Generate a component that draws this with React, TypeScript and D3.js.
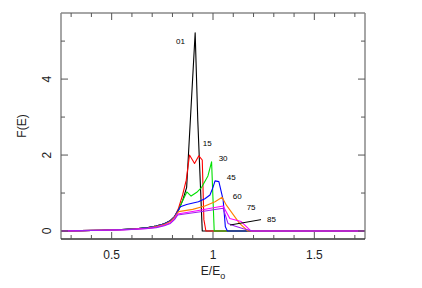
import React from "react";
import * as d3 from "d3";

const W = 422;
const H = 288;

// Series: energy ratio E/Eo and F(E) for each angle
const E01 = [0.25, 0.35, 0.45, 0.55, 0.62, 0.68, 0.72, 0.76, 0.79, 0.81, 0.83, 0.85, 0.87, 0.912, 0.925, 0.947, 0.96, 1.75];
const F01 = [0, 0.01, 0.02, 0.04, 0.06, 0.09, 0.13, 0.19, 0.28, 0.38, 0.55, 0.8, 1.15, 5.22, 2.9, 0, 0, 0];

const E15 = [0.25, 0.35, 0.45, 0.55, 0.62, 0.68, 0.72, 0.76, 0.79, 0.81, 0.83, 0.85, 0.868, 0.884, 0.909, 0.93, 0.947, 0.955, 0.965, 1.75];
const F15 = [0, 0.01, 0.02, 0.04, 0.06, 0.09, 0.13, 0.19, 0.27, 0.37, 0.6, 0.95, 1.34, 2.0, 1.78, 1.98, 1.87, 0.3, 0, 0];

const E30 = [0.25, 0.35, 0.45, 0.55, 0.62, 0.68, 0.72, 0.76, 0.79, 0.81, 0.83, 0.85, 0.871, 0.892, 0.92, 0.944, 0.975, 0.993, 1.006, 1.75];
const F30 = [0, 0.01, 0.02, 0.04, 0.06, 0.09, 0.13, 0.19, 0.27, 0.36, 0.55, 0.8, 1.03, 0.92, 1.02, 1.15, 1.45, 1.82, 0, 0];

const E45 = [0.25, 0.35, 0.45, 0.55, 0.62, 0.68, 0.72, 0.76, 0.79, 0.81, 0.839, 0.87, 0.928, 0.96, 0.985, 1.0, 1.01, 1.029, 1.05, 1.061, 1.071, 1.75];
const F45 = [0, 0.01, 0.02, 0.04, 0.06, 0.09, 0.13, 0.19, 0.27, 0.38, 0.64, 0.7, 0.77, 0.85, 0.95, 1.15, 1.32, 1.3, 0.82, 0.11, 0, 0];

const E60 = [0.25, 0.35, 0.45, 0.55, 0.62, 0.68, 0.72, 0.76, 0.79, 0.81, 0.83, 0.9, 0.96, 1.01, 1.045, 1.066, 1.107, 1.131, 1.172, 1.75];
const F60 = [0, 0.01, 0.02, 0.035, 0.055, 0.08, 0.12, 0.17, 0.25, 0.36, 0.51, 0.57, 0.66, 0.77, 0.89, 0.68, 0.38, 0.2, 0, 0];

const E75 = [0.25, 0.35, 0.45, 0.55, 0.62, 0.68, 0.72, 0.76, 0.79, 0.81, 0.825, 0.928, 1.05, 1.083, 1.139, 1.188, 1.75];
const F75 = [0, 0.01, 0.02, 0.03, 0.05, 0.07, 0.1, 0.15, 0.22, 0.32, 0.45, 0.54, 0.66, 0.33, 0.25, 0, 0];

const E85 = [0.25, 0.35, 0.45, 0.55, 0.62, 0.68, 0.72, 0.76, 0.79, 0.81, 0.825, 0.93, 1.05, 1.074, 1.107, 1.15, 1.196, 1.75];
const F85 = [0, 0.01, 0.02, 0.03, 0.045, 0.065, 0.09, 0.14, 0.2, 0.3, 0.42, 0.5, 0.6, 0.2, 0.13, 0.06, 0, 0];

const seriesNames = ["01", "15", "30", "45", "60", "75", "85"];
const seriesE = [E01, E15, E30, E45, E60, E75, E85];
const seriesF = [F01, F15, F30, F45, F60, F75, F85];
const seriesColors = ["#000000", "#ff0000", "#00e000", "#0000ff", "#ff8000", "#ff00ff", "#a020f0"];

// label anchor positions (data coords)
const labelE = [0.84, 0.972, 1.05, 1.09, 1.12, 1.188, 1.289];
const labelF = [4.97, 2.29, 1.89, 1.39, 0.89, 0.6, 0.29];
// pointer line for the 85 label
const pointerE = [1.084, 1.237];
const pointerF = [0.158, 0.3];

const xMajor = [0.5, 1, 1.5];
const xMinor = [0.3, 0.4, 0.6, 0.7, 0.8, 0.9, 1.1, 1.2, 1.3, 1.4, 1.6, 1.7];
const yMajor = [0, 2, 4];
const yMinor = [1, 3, 5];

export default function App() {
  const x = d3.scaleLinear().domain([0.25, 1.75]).range([61, 365]);
  const y = d3.scaleLinear().domain([-0.21, 5.74]).range([239, 13]);
  const [x0, x1] = x.range();
  const [y0, y1] = y.range();
  const axisColor = "#888888";
  const major = 7;
  const minor = 4;
  const font = "'Liberation Sans', Arial, Helvetica, sans-serif";

  const line = d3
    .line<[number, number]>()
    .x((d) => x(d[0]))
    .y((d) => y(d[1]));

  return (
    <svg
      width={W}
      height={H}
      style={{ position: "absolute", left: 0, top: 0, background: "#fff" }}
    >
      <rect x={0} y={0} width={W} height={H} fill="#fff" />
      {seriesE.map((es, i) => (
        <path
          key={seriesNames[i]}
          d={line(es.map((e, j) => [e, seriesF[i][j]] as [number, number])) || ""}
          fill="none"
          stroke={seriesColors[i]}
          strokeWidth={1.1}
          strokeLinejoin="round"
        />
      ))}
      {/* frame */}
      <line x1={x0} x2={x0} y1={y1} y2={y0} stroke={axisColor} strokeWidth={1.5} />
      <line x1={x1} x2={x1} y1={y1} y2={y0} stroke={axisColor} strokeWidth={1.5} />
      <line x1={x0} x2={x1} y1={y1} y2={y1} stroke={axisColor} strokeWidth={1.5} />
      <line x1={x0} x2={x1} y1={y0} y2={y0} stroke="#333" strokeWidth={1.5} />
      {/* x ticks */}
      {xMajor.map((v) => (
        <g key={"xM" + v}>
          <line x1={x(v)} x2={x(v)} y1={y0} y2={y0 - major} stroke="#555" strokeWidth={1} />
          <line x1={x(v)} x2={x(v)} y1={y1} y2={y1 + major} stroke="#555" strokeWidth={1} />
          <text x={x(v)} y={y0 + 20} textAnchor="middle" fontSize={12} fontFamily={font} fill="#222">
            {String(v)}
          </text>
        </g>
      ))}
      {xMinor.map((v) => (
        <g key={"xm" + v}>
          <line x1={x(v)} x2={x(v)} y1={y0} y2={y0 - minor} stroke="#555" strokeWidth={1} />
          <line x1={x(v)} x2={x(v)} y1={y1} y2={y1 + minor} stroke="#555" strokeWidth={1} />
        </g>
      ))}
      {/* y ticks */}
      {yMajor.map((v) => (
        <g key={"yM" + v}>
          <line x1={x0} x2={x0 + major} y1={y(v)} y2={y(v)} stroke="#555" strokeWidth={1} />
          <line x1={x1} x2={x1 - major} y1={y(v)} y2={y(v)} stroke="#555" strokeWidth={1} />
          <text
            transform={`translate(${x0 - 10},${y(v)}) rotate(-90)`}
            textAnchor="middle"
            fontSize={12}
            fontFamily={font}
            fill="#222"
          >
            {String(v)}
          </text>
        </g>
      ))}
      {yMinor.map((v) => (
        <g key={"ym" + v}>
          <line x1={x0} x2={x0 + minor} y1={y(v)} y2={y(v)} stroke="#555" strokeWidth={1} />
          <line x1={x1} x2={x1 - minor} y1={y(v)} y2={y(v)} stroke="#555" strokeWidth={1} />
        </g>
      ))}
      {/* axis titles */}
      <text
        transform={`translate(26,${(y0 + y1) / 2}) rotate(-90)`}
        textAnchor="middle"
        fontSize={12}
        fontFamily={font}
        fill="#222"
      >
        F(E)
      </text>
      <text x={(x0 + x1) / 2} y={y0 + 36} textAnchor="middle" fontSize={12} fontFamily={font} fill="#222">
        E/E
        <tspan fontSize={9} dy={4}>o</tspan>
      </text>
      {/* series labels */}
      {seriesNames.map((n, i) => (
        <text
          key={"lab" + n}
          x={x(labelE[i])}
          y={y(labelF[i])}
          textAnchor="middle"
          dominantBaseline="middle"
          fontSize={8}
          fontFamily={font}
          fill="#000"
        >
          {n}
        </text>
      ))}
      <line
        x1={x(pointerE[0])}
        y1={y(pointerF[0])}
        x2={x(pointerE[1])}
        y2={y(pointerF[1])}
        stroke="#000"
        strokeWidth={1}
      />
    </svg>
  );
}
